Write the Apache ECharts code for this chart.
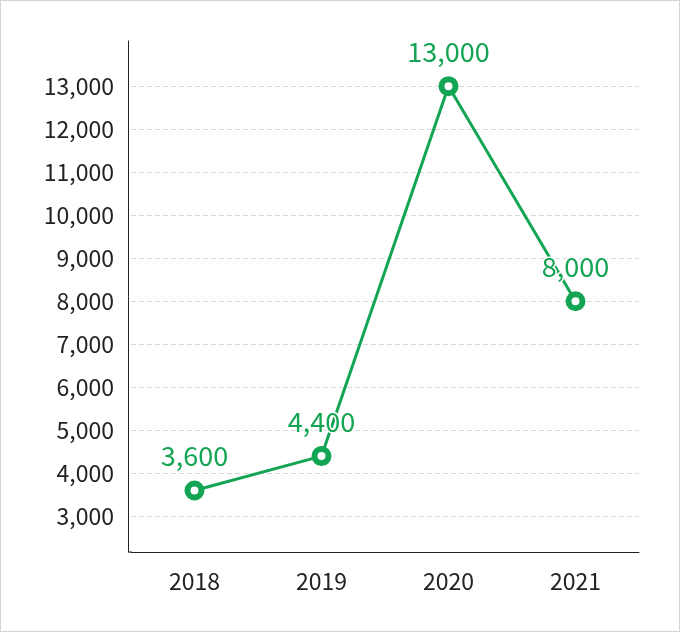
<!DOCTYPE html>
<html>
<head>
<meta charset="UTF-8">
<title>Line chart</title>
<script src="https://cdn.jsdelivr.net/npm/echarts@6/dist/echarts.min.js"></script>
<style>
  html, body { margin: 0; padding: 0; background: #fff; }
  #chart {
    width: 680px; height: 632px;
    box-sizing: border-box;
    border: 1px solid #d4d4d4;
  }
</style>
</head>
<body>
<div id="chart"></div>
<script>
// data
var years = ['2018', '2019', '2020', '2021'];
var values = [3600, 4400, 13000, 8000];
var yTicks = [3000, 4000, 5000, 6000, 7000, 8000, 9000, 10000, 11000, 12000, 13000];

var green = '#13a454';
var font = 'Noto Sans CJK KR, Noto Sans, sans-serif';
var fmt = function (v) { return Number(v).toLocaleString('en-US'); };

var chart = echarts.init(document.getElementById('chart'));
chart.setOption({
  animation: false,
  grid: { left: 130, right: 40, top: 40, bottom: 79 },
  graphic: [{
    // small piece of baseline to meet the offset y axis
    type: 'line', z: 10,
    shape: { x1: 127, y1: 551, x2: 131, y2: 551 },
    style: { stroke: '#222', lineWidth: 1 }
  }],
  xAxis: {
    type: 'category',
    data: years,
    boundaryGap: true,
    axisLine: { lineStyle: { color: '#222', width: 1 } },
    axisTick: { show: false },
    axisLabel: { color: '#222', fontSize: 23, margin: 18, fontFamily: font }
  },
  yAxis: {
    type: 'value',
    min: 2170,
    max: 14050,
    offset: 3,
    axisLine: { show: true, lineStyle: { color: '#222', width: 1 } },
    axisTick: { show: false, customValues: yTicks },
    splitLine: { show: true, lineStyle: { color: '#d9d9d9', type: [5, 3] } },
    axisLabel: {
      customValues: yTicks,
      color: '#222', fontSize: 23, margin: 14,
      fontFamily: font,
      formatter: fmt
    }
  },
  series: [{
    type: 'line',
    data: values,
    symbol: 'circle',
    symbolSize: 14,
    lineStyle: { color: green, width: 3 },
    itemStyle: { color: '#fff', borderColor: green, borderWidth: 6 },
    label: {
      show: true,
      position: 'top',
      distance: 11,
      color: green,
      fontSize: 27,
      fontFamily: font,
      textBorderColor: '#fff',
      textBorderWidth: 3,
      formatter: function (p) { return fmt(p.value); }
    }
  }]
});
</script>
</body>
</html>
